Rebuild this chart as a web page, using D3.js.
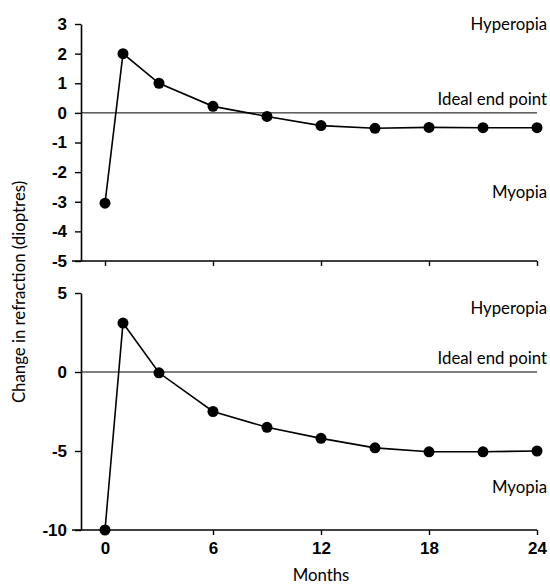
<!DOCTYPE html>
<html lang="en">
    <head>
        <meta charset="utf-8">
        <title>Change in refraction</title>
        <script src="https://d3js.org/d3.v7.min.js"></script>
        <style>
            html, body {
                margin: 0;
                padding: 0;
                background: #fff;
            }
            svg {
                display: block;
                font-family: "Lato", sans-serif;
            }
            .tick-label {
                font-size: 17px;
                font-weight: 700;
            }
            .note {
                font-size: 16.8px;
            }
        </style>
    </head>
    <body>
        <svg id="chart"></svg>

        <script>
            //data
            const months = [0, 1, 3, 6, 9, 12, 15, 18, 21, 24];
            const topValues = [-3.05, 2, 1, 0.22, -0.12, -0.43, -0.52, -0.49, -0.5, -0.5];
            const bottomValues = [-10, 3.1, -0.05, -2.5, -3.5, -4.2, -4.8, -5.05, -5.05, -5.0];
            const xTicks = [0, 6, 12, 18, 24];
            const topTicks = [3, 2, 1, 0, -1, -2, -3, -4, -5];
            const bottomTicks = [5, 0, -5, -10];
            const notes = ["Hyperopia", "Ideal end point", "Myopia"];

            //chart dimensions
            const width = 550;
            const height = 584;
            const axisX = 81;

            const svg = d3.select("#chart")
                .attr("width", width)
                .attr("height", height);

            const xScale = d3.scaleLinear()
                .domain([0, 24])
                .range([105, 537]);

            const panels = [
                { values: topValues, ticks: topTicks, domain: [-5, 3], range: [261, 24], notesY: [30, 105, 198], xLabels: false },
                { values: bottomValues, ticks: bottomTicks, domain: [-10, 5], range: [530, 293], notesY: [314, 364, 493], xLabels: true }
            ];

            panels.forEach(p => {
                const yScale = d3.scaleLinear().domain(p.domain).range(p.range);
                const g = svg.append("g");

                //y axis
                const yAxis = d3.axisLeft(yScale)
                    .tickValues(p.ticks)
                    .tickSize(6)
                    .tickSizeOuter(0)
                    .tickPadding(8)
                    .tickFormat(d3.format("d"));

                const ya = g.append("g")
                    .attr("transform", `translate(${axisX},0)`)
                    .call(yAxis);
                ya.select(".domain").attr("stroke-width", 1.6);
                ya.selectAll(".tick line").attr("stroke-width", 1.4);
                ya.selectAll(".tick text")
                    .attr("class", "tick-label")
                    .attr("fill", "#000")
                    .text(d => d < 0 ? "-" + Math.abs(d) : d);

                //x axis
                const xAxis = d3.axisBottom(xScale)
                    .tickValues(xTicks)
                    .tickSize(5)
                    .tickSizeOuter(0)
                    .tickPadding(7)
                    .tickFormat(p.xLabels ? d3.format("d") : "");

                const xa = g.append("g")
                    .attr("transform", `translate(0,${p.range[0]})`)
                    .call(xAxis);
                xa.select(".domain").remove();
                xa.append("line")
                    .attr("x1", axisX - 9)
                    .attr("x2", xScale(24))
                    .attr("stroke", "#000")
                    .attr("stroke-width", 1.6);
                xa.selectAll(".tick line").attr("stroke-width", 1.4);
                xa.selectAll(".tick text")
                    .attr("class", "tick-label")
                    .attr("fill", "#000");

                //ideal end point line
                g.append("line")
                    .attr("x1", axisX)
                    .attr("x2", xScale(24))
                    .attr("y1", yScale(0))
                    .attr("y2", yScale(0))
                    .attr("stroke", "#000")
                    .attr("stroke-width", 1);

                //series
                const line = d3.line()
                    .x((d, i) => xScale(months[i]))
                    .y(d => yScale(d));

                g.append("path")
                    .datum(p.values)
                    .attr("d", line)
                    .attr("fill", "none")
                    .attr("stroke", "#000")
                    .attr("stroke-width", 1.6);

                g.selectAll("circle")
                    .data(p.values)
                    .enter()
                    .append("circle")
                    .attr("cx", (d, i) => xScale(months[i]))
                    .attr("cy", d => yScale(d))
                    .attr("r", 5.5)
                    .attr("fill", "#000");

                //notes
                g.selectAll(".note")
                    .data(notes)
                    .enter()
                    .append("text")
                    .attr("class", "note")
                    .attr("x", 547)
                    .attr("y", (d, i) => p.notesY[i])
                    .attr("text-anchor", "end")
                    .text(d => d);
            });

            //axis titles
            svg.append("text")
                .attr("class", "note")
                .attr("transform", "translate(25,292) rotate(-90)")
                .attr("text-anchor", "middle")
                .text("Change in refraction (dioptres)");

            svg.append("text")
                .attr("class", "note")
                .attr("x", xScale(12))
                .attr("y", 581)
                .attr("text-anchor", "middle")
                .text("Months");
        </script>
    </body>
</html>
